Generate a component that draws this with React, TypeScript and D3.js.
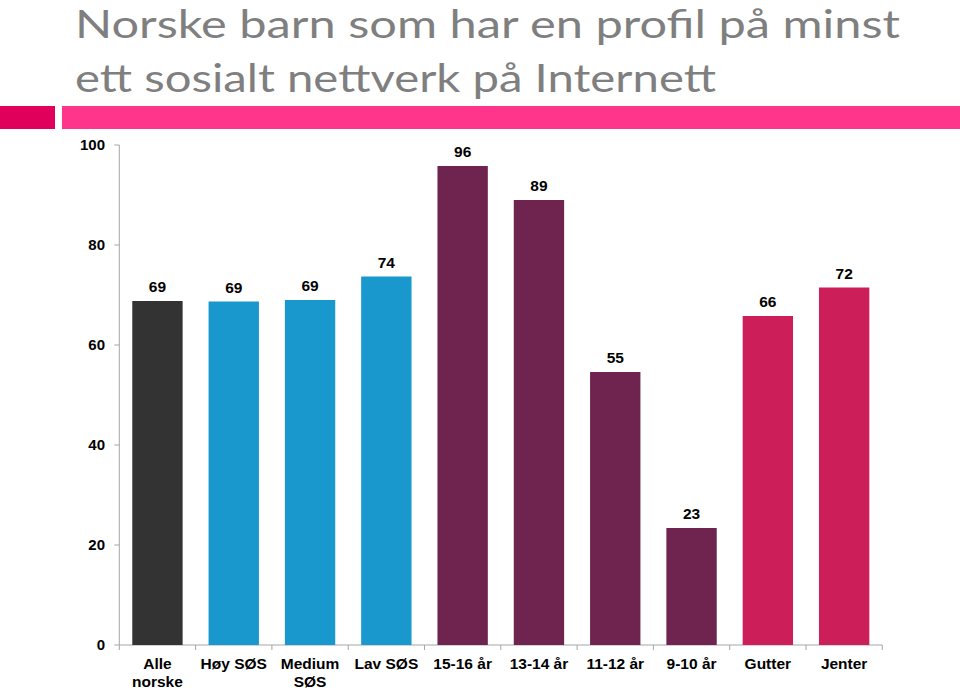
import React from "react";
import * as d3 from "d3";

const categories: string[][] = [
  ["Alle", "norske"],
  ["Høy SØS"],
  ["Medium", "SØS"],
  ["Lav SØS"],
  ["15-16 år"],
  ["13-14 år"],
  ["11-12 år"],
  ["9-10 år"],
  ["Gutter"],
  ["Jenter"],
];
const values: number[] = [68.8, 68.7, 69.0, 73.7, 95.8, 89.0, 54.6, 23.4, 65.8, 71.5];
const valueLabels: string[] = ["69", "69", "69", "74", "96", "89", "55", "23", "66", "72"];
const groups: string[] = ["all", "ses", "ses", "ses", "age", "age", "age", "age", "gender", "gender"];
const yTicks: number[] = [0, 20, 40, 60, 80, 100];
const titleLines: string[] = [
  "Norske barn som har en profil på minst",
  "ett sosialt nettverk på Internett",
];

const groupColor: Record<string, string> = {
  all: "#333333",
  ses: "#1898cc",
  age: "#6e244f",
  gender: "#cc1f5a",
};

export default function App() {
  const W = 960;
  const H = 691;
  const left = 119.3;
  const right = 882.3;
  const top = 145;
  const bottom = 645;

  const x = d3
    .scaleBand<number>()
    .domain(values.map((_, i) => i))
    .range([left, right])
    .paddingInner(0.34)
    .paddingOuter(0.17);
  const y = d3.scaleLinear().domain([0, 100]).range([bottom, top]);
  const step = x.step();
  const font = "Liberation Sans, Arial, sans-serif";

  return (
    <svg
      width={W}
      height={H}
      style={{ position: "absolute", left: 0, top: 0, background: "#fff" }}
    >
      {/* title */}
      <text x={75} y={38} fontFamily="Lato, sans-serif" fontWeight={400} fontSize={38} fill="#7f7f7f" textLength={825} lengthAdjust="spacingAndGlyphs">
        {titleLines[0]}
      </text>
      <text x={75} y={92} fontFamily="Lato, sans-serif" fontWeight={400} fontSize={38} fill="#7f7f7f" textLength={641} lengthAdjust="spacingAndGlyphs">
        {titleLines[1]}
      </text>
      {/* header bands */}
      <rect x={0} y={106} width={55} height={23} fill="#e0005c" />
      <rect x={62} y={106} width={898} height={23} fill="#fe358a" />

      {/* y axis */}
      <line x1={left} x2={left} y1={top} y2={bottom} stroke="#a6a6a6" strokeWidth={1} />
      {yTicks.map((t) => (
        <g key={t}>
          <line x1={left - 5} x2={left} y1={y(t)} y2={y(t)} stroke="#a6a6a6" />
          <text x={105} y={y(t) + 5} textAnchor="end" fontFamily={font} fontWeight="bold" fontSize={15} fill="#000">
            {t}
          </text>
        </g>
      ))}

      {/* x axis */}
      <line x1={left} x2={right} y1={bottom} y2={bottom} stroke="#a6a6a6" />
      {d3.range(values.length + 1).map((i) => (
        <line key={i} x1={left + i * step} x2={left + i * step} y1={bottom} y2={bottom + 5} stroke="#a6a6a6" />
      ))}

      {/* bars */}
      {values.map((v, i) => (
        <g key={i}>
          <rect x={x(i)!} y={y(v)} width={x.bandwidth()} height={bottom - y(v)} fill={groupColor[groups[i]]} />
          <text x={x(i)! + x.bandwidth() / 2} y={y(v) - 9} textAnchor="middle" fontFamily={font} fontWeight="bold" fontSize={15.5} fill="#000">
            {valueLabels[i]}
          </text>
          {categories[i].map((line, j) => (
            <text key={j} x={x(i)! + x.bandwidth() / 2} y={669 + j * 18} textAnchor="middle" fontFamily={font} fontWeight="bold" fontSize={15.5} fill="#000">
              {line}
            </text>
          ))}
        </g>
      ))}
    </svg>
  );
}
